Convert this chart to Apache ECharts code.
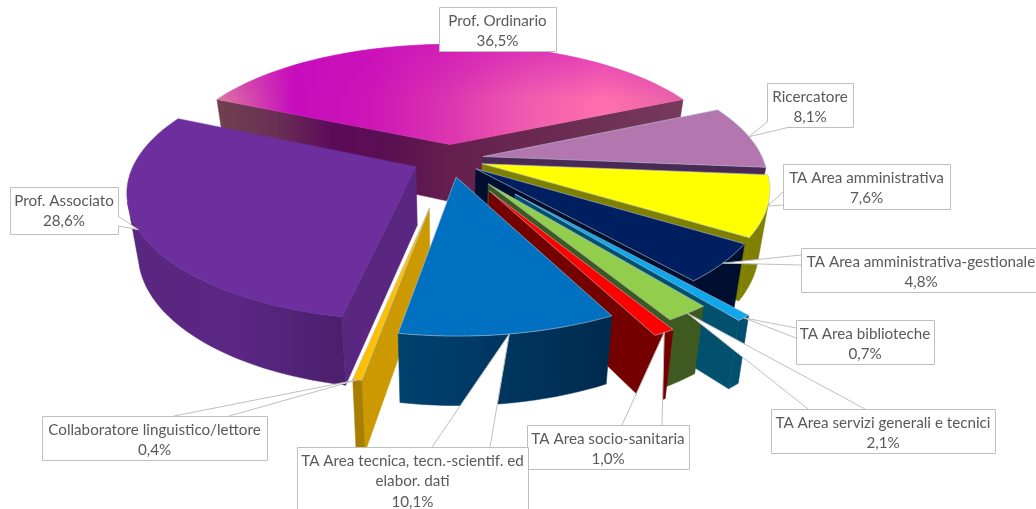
<!DOCTYPE html>
<html>
<head>
<meta charset="utf-8">
<style>html,body{margin:0;padding:0;background:#fff}#main{width:1036px;height:509px}</style>
<script src="https://cdn.jsdelivr.net/npm/echarts@6/dist/echarts.min.js"></script>
</head>
<body>
<div id="main"></div>
<script>
const categories = ['Prof. Ordinario', 'Ricercatore', 'TA Area amministrativa', 'TA Area amministrativa-gestionale',
    'TA Area biblioteche', 'TA Area servizi generali e tecnici', 'TA Area socio-sanitaria',
    'TA Area tecnica, tecn.-scientif. ed\nelabor. dati', 'Collaboratore linguistico/lettore', 'Prof. Associato'];
const values = [36.5, 8.1, 7.6, 4.8, 0.7, 2.1, 1.0, 10.1, 0.4, 28.6];

// how far each slice is pulled out, in pie radii
const explode = [0.12, 0.12, 0.12, 0.12, 0.35, 0.235, 0.28, 0.145, 0.38, 0.135];
const drawOrder = [0, 9, 1, 2, 3, 4, 5, 6, 8, 7];

const topColors = ['#c80cbe', '#b476ae', '#ffff00', '#001f60', '#10a8ea', '#92cd4c', '#ff0000', '#0070c0', '#ffc000', '#6d2e9e'];
const sideColors = ['#64204e', '#4a2a55', '#808000', '#000f30', '#00506e', '#3f5a20', '#750000', '#003a66', '#cc9a00', '#592680'];
const wallColors = ['#64204e', '#4a2a55', '#808000', '#000f30', '#00506e', '#3f5a20', '#750000', '#003a66', '#a87e00', '#532479'];

// box [x, y, w, h], then the two points where the callout leaves the box
const labelBoxes = [[439, 7, 117, 44], [767, 83, 86, 44], [783, 164, 167, 45], [801, 248, 240, 44], [796, 320, 138, 44],
    [771, 409, 224, 44], [527, 425, 162, 44], [297, 447, 231, 66], [42, 416, 225, 44], [10, 187, 108, 47]];
const calloutBases = [null, [[767, 122], [790, 127]], [[783, 192], [783, 205]], [[801, 255], [801, 265]], [[796, 328], [796, 338]],
    [[808, 409], [865, 409]], [[622, 425], [662, 425]], [[432, 447], [490, 447]], [[174, 416], [229, 416]], [[118, 216], [118, 226]]];

const total = values.reduce((a, b) => a + b, 0);
const RAD = Math.PI / 180;
const startAngle = -values[0] / total * 180;
const CX = 450, CY = 159, RX = 280, RY = 123, PERSP = 0.18, DEPTH = 58;

let run = startAngle;
const spans = values.map(v => {
    const a0 = run;
    run += v / total * 360;
    return [a0, run];
});

function project(i, angle, r, bottom) {
    const mid = (spans[i][0] + spans[i][1]) / 2 * RAD;
    const px = explode[i] * Math.sin(mid) + r * Math.sin(angle * RAD);
    const py = explode[i] * Math.cos(mid) + r * Math.cos(angle * RAD);
    const d = 1 + PERSP * py;
    let x = CX + RX * px / d;
    let y = CY - RY * py / d;
    if (bottom) {
        y += DEPTH / (1 + 0.8 * PERSP * py);
        x = CX + (x - CX) * 0.965;
    }
    return [x, y];
}

function cross(a, b, c) {
    return (b[0] - a[0]) * (c[1] - a[1]) - (b[1] - a[1]) * (c[0] - a[0]);
}

function hGrad(stops) {
    return new echarts.graphic.LinearGradient(0, 0, 1, 0, stops.map((c, k) => ({ offset: k / (stops.length - 1), color: c })));
}

function topFill(i) {
    if (i === 0) return hGrad(['#de7aa0', '#c60cbc', '#cc16b6', '#dc36b0', '#f05cae', '#ff70ae', '#e660a8']);
    return topColors[i];
}
function wallFill(i) {
    if (i === 7) return hGrad(['#00426f', '#003660', '#002a4e']);
    if (i === 9) return hGrad(['#592680', '#5a2782', '#4a1f6c']);
    return wallColors[i];
}
function sideFill(i, end) {
    if (i === 0) {
        return end ? hGrad(['#641f4e', '#6c2c52', '#763a5c'])
            : hGrad(['#70404f', '#6a3055', '#5c0a5a', '#5a1050', '#641f4e']);
    }
    return sideColors[i];
}

function poly(points, fill, stroke) {
    return {
        type: 'polygon',
        shape: { points },
        style: { fill, stroke: stroke || fill, lineWidth: stroke ? 0.8 : 0.5 },
        silent: true
    };
}

function renderSlice(params, api) {
    const i = api.value(0);
    const a0 = spans[i][0], a1 = spans[i][1];
    const tip = project(i, 0, 0, false), tipB = project(i, 0, 0, true);
    const steps = Math.max(2, Math.ceil((a1 - a0) / 2));
    const arc = [], arcB = [];
    for (let k = 0; k <= steps; k++) {
        const a = a0 + (a1 - a0) * k / steps;
        arc.push(project(i, a, 1, false));
        arcB.push(project(i, a, 1, true));
    }
    const children = [];
    // cut faces, only when they look at the camera
    if (cross(tip, arc[0], tipB) < 0) children.push(poly([tip, arc[0], arcB[0], tipB], sideFill(i, false)));
    if (cross(tip, arc[steps], tipB) > 0) children.push(poly([tip, arc[steps], arcB[steps], tipB], sideFill(i, true)));
    // outer wall
    const up = [], down = [];
    for (let k = 0; k < steps; k++) {
        if (cross(arc[k], arc[k + 1], arcB[k]) < 0) {
            if (!up.length) { up.push(arc[k]); down.push(arcB[k]); }
            up.push(arc[k + 1]);
            down.push(arcB[k + 1]);
        }
    }
    if (up.length) children.push(poly(up.concat(down.reverse()), wallFill(i)));
    // top
    const edge = (i === 0 || i === 9) ? null : 'rgba(175,195,220,0.75)';
    children.push(poly([tip].concat(arc), topFill(i), edge));
    if (i === 0) {
        children.push(poly([tip].concat(arc), new echarts.graphic.LinearGradient(0, 0, 0, 1, [
            { offset: 0, color: 'rgba(200,12,190,0.55)' },
            { offset: 0.55, color: 'rgba(200,12,190,0)' }
        ])));
    }
    return { type: 'group', children };
}

function renderLabel(params) {
    const i = params.dataIndex;
    const b = labelBoxes[i];
    const children = [{
        type: 'rect',
        shape: { x: b[0] + 0.5, y: b[1] + 0.5, width: b[2], height: b[3] },
        style: { fill: '#fff', stroke: '#bfbfbf', lineWidth: 1 },
        silent: true
    }];
    if (calloutBases[i]) {
        const t = project(i, (spans[i][0] + spans[i][1]) / 2, 1, false);
        const [p, q] = calloutBases[i];
        children.push({ type: 'polygon', shape: { points: [p, t, q] }, style: { fill: '#fff', stroke: null }, silent: true });
        children.push({ type: 'polyline', shape: { points: [p, t, q] }, style: { fill: null, stroke: '#bfbfbf', lineWidth: 1 }, silent: true });
    }
    const pct = values[i].toFixed(1).replace('.', ',') + '%';
    const lines = categories[i].split('\n').concat(pct);
    lines.forEach((line, k) => {
        children.push({
            type: 'text',
            style: {
                text: line,
                x: b[0] + b[2] / 2,
                y: b[1] + 14 + k * 20.5,
                fill: '#595959',
                font: '15.2px Lato',
                align: 'center',
                verticalAlign: 'middle'
            },
            silent: true
        });
    });
    return { type: 'group', children };
}

const chart = echarts.init(document.getElementById('main'), null, { renderer: 'canvas' });
chart.setOption({
    backgroundColor: '#fff',
    animation: false,
    series: [
        {
            type: 'custom',
            coordinateSystem: 'none',
            renderItem: renderSlice,
            data: drawOrder.map(i => ({ name: categories[i], value: [i, values[i]] }))
        },
        {
            type: 'custom',
            coordinateSystem: 'none',
            renderItem: renderLabel,
            data: categories.map((c, i) => ({ name: c, value: [i, values[i]] })),
            z: 5
        }
    ]
});
</script>
</body>
</html>
